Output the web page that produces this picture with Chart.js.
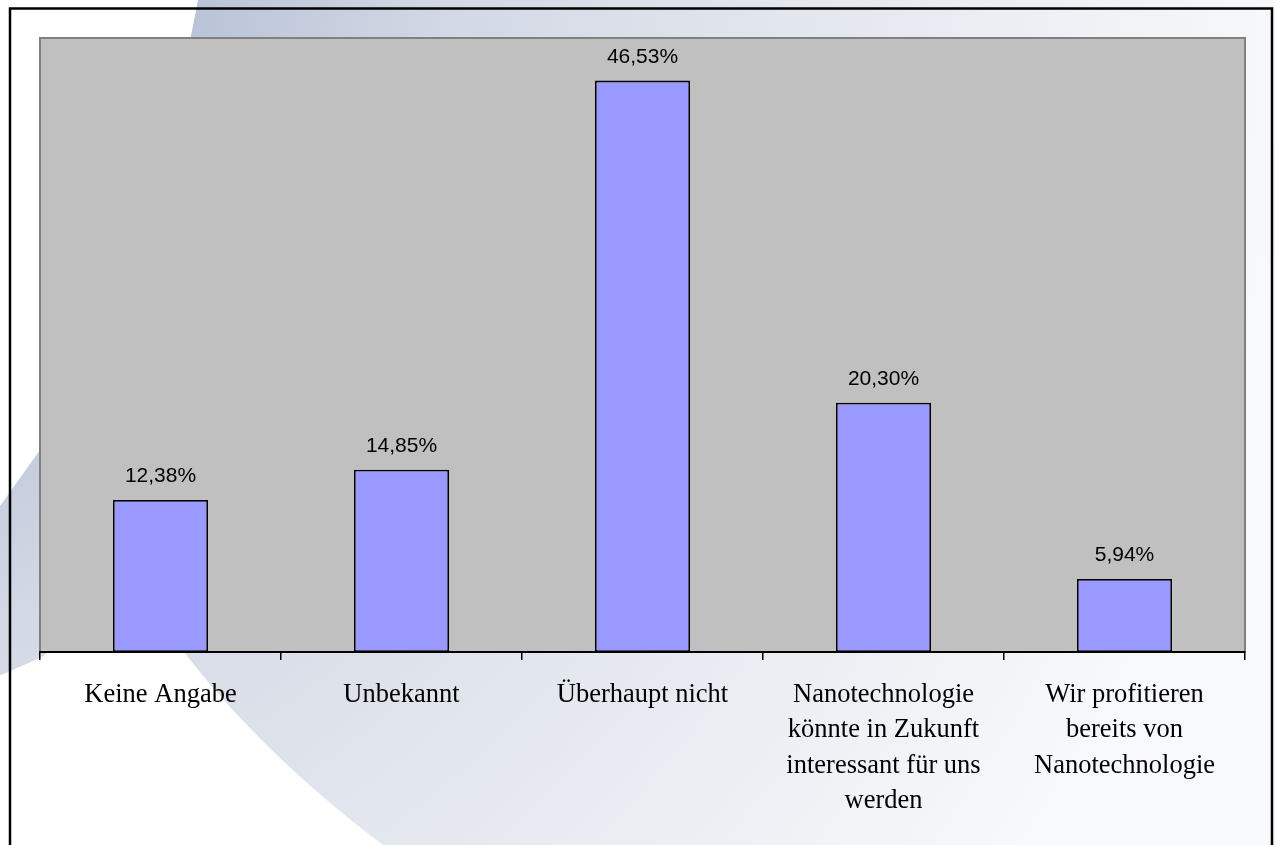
<!DOCTYPE html>
<html>
<head>
<meta charset="utf-8">
<script src="https://cdn.jsdelivr.net/npm/chart.js@4/dist/chart.umd.min.js"></script>
<style>
  body { margin: 0; background: #ffffff; }
  canvas { display: block; }
</style>
</head>
<body>
<canvas id="myChart" width="1275" height="845"></canvas>
<script>
// Survey answers (German labels) and their shares in percent
var categories = [
    "Keine Angabe",
    "Unbekannt",
    "Überhaupt nicht",
    ["Nanotechnologie", "könnte in Zukunft", "interessant für uns", "werden"],
    ["Wir profitieren", "bereits von", "Nanotechnologie"]
];
var shares = [12.38, 14.85, 46.53, 20.30, 5.94];
var shareLabels = ["12,38%", "14,85%", "46,53%", "20,30%", "5,94%"];

//Paints the page background, the blue swoosh, the frame and the gray plot area
var backgroundPlugin = {
    id: "background",
    beforeDraw: function (chart) {
        var ctx = chart.ctx;
        var w = chart.width, h = chart.height;
        var area = chart.chartArea;
        ctx.save();
        ctx.fillStyle = "#ffffff";
        ctx.fillRect(0, 0, w, h);

        //swoosh decoration (mostly hidden behind the plot area)
        var grad = ctx.createRadialGradient(-200, 0, 380, -200, 0, 1500);
        grad.addColorStop(0, "#b9c3d7");
        grad.addColorStop(0.25, "#d3d9e5");
        grad.addColorStop(0.5, "#e0e4ec");
        grad.addColorStop(1, "#f8f9fb");
        ctx.fillStyle = grad;
        ctx.beginPath();
        ctx.moveTo(198, 0);
        ctx.quadraticCurveTo(150, 260, 40, 450);
        ctx.lineTo(-10, 520);
        ctx.lineTo(-10, 680);
        ctx.lineTo(40, 658);
        ctx.lineTo(140, 590);
        ctx.quadraticCurveTo(230, 730, 383, h);
        ctx.lineTo(w, h);
        ctx.lineTo(w, 0);
        ctx.closePath();
        ctx.fill();

        //gray plot area
        ctx.fillStyle = "#c0c0c0";
        ctx.fillRect(area.left, area.top, area.right - area.left, area.bottom - area.top);
        ctx.strokeStyle = "#808080";
        ctx.lineWidth = 2;
        ctx.strokeRect(area.left, area.top, area.right - area.left, area.bottom - area.top);

        //outer frame
        ctx.strokeStyle = "#000000";
        ctx.lineWidth = 2.5;
        ctx.strokeRect(10, 8.5, w - 13, h + 20);
        ctx.restore();
    }
};

//Writes the percentage above each bar
var valueLabelPlugin = {
    id: "valueLabels",
    afterDatasetsDraw: function (chart) {
        var ctx = chart.ctx;
        var bars = chart.getDatasetMeta(0).data;
        ctx.save();
        ctx.font = "21px 'Liberation Sans', Arial, sans-serif";
        ctx.fillStyle = "#000000";
        ctx.textAlign = "center";
        ctx.textBaseline = "alphabetic";
        for (var i = 0; i < bars.length; i++) {
            ctx.fillText(shareLabels[i], bars[i].x, bars[i].y - 18);
        }
        ctx.restore();
    }
};

var infoChart = new Chart("myChart", {
    type: "bar",
    data: {
        labels: categories,
        datasets: [{
            data: shares,
            backgroundColor: "#9999ff",
            borderColor: "#000000",
            borderWidth: 1.8,
            borderSkipped: false,
            barPercentage: 0.395,
            categoryPercentage: 1
        }]
    },
    options: {
        responsive: false,
        animation: false,
        layout: { padding: { left: 40, top: 38, right: 30, bottom: 0 } },
        plugins: {
            legend: { display: false },
            tooltip: { enabled: false }
        },
        scales: {
            x: {
                offset: true,
                afterFit: function (scale) { scale.height = 845 - 652; },
                grid: {
                    offset: true,
                    drawOnChartArea: false,
                    drawTicks: true,
                    tickLength: 8,
                    color: "#000000",
                    lineWidth: 1.5
                },
                border: { display: true, color: "#000000", width: 2 },
                ticks: {
                    autoSkip: false,
                    maxRotation: 0,
                    minRotation: 0,
                    padding: 17,
                    color: "#000000",
                    font: { family: "'Liberation Serif', 'Times New Roman', serif", size: 26.5, lineHeight: 1.34 }
                }
            },
            y: {
                display: false,
                min: 0,
                max: 50
            }
        }
    },
    plugins: [backgroundPlugin, valueLabelPlugin]
});
</script>
</body>
</html>
